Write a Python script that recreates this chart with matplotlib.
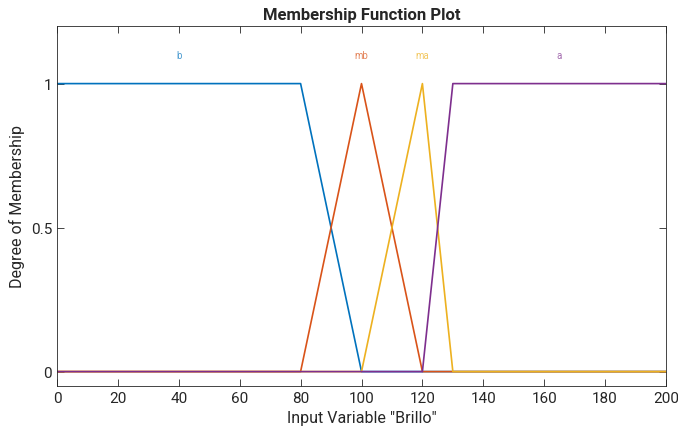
import matplotlib
matplotlib.use("Agg")
import matplotlib.pyplot as plt
import numpy as np

plt.rcParams['font.family'] = ['Roboto', 'DejaVu Sans']

# Membership function definitions (breakpoints) for variable "Brillo"
names = ["b", "mb", "ma", "a"]
x_pts = [
    [0, 80, 100, 200],        # b: trapezoid [0 0 80 100]
    [0, 80, 100, 120, 200],   # mb: triangle [80 100 120]
    [0, 100, 120, 130, 200],  # ma: triangle [100 120 130]
    [0, 120, 130, 200],       # a: trapezoid [120 130 200 200]
]
y_pts = [
    [1, 1, 0, 0],
    [0, 0, 1, 0, 0],
    [0, 0, 1, 0, 0],
    [0, 0, 1, 1],
]
label_x = [40, 100, 120, 165]
label_y = 1.1
colors = ["#0072BD", "#D95319", "#EDB120", "#7E2F8E"]

xticks = list(range(0, 201, 20))
yticks = [0, 0.5, 1]

fig = plt.figure(figsize=(6.78, 4.35), dpi=100)
ax = fig.add_axes([57/678, 1-387/435, (666-57)/678, (387-27)/435])

for xs, ys, c in zip(x_pts, y_pts, colors):
    ax.plot(xs, ys, color=c, lw=1.2)

for n, lx, c in zip(names, label_x, colors):
    ax.text(lx, label_y, n, color=c, alpha=0.7, fontsize=7, ha='center', va='center')

ax.set_xlim(0, 200)
ax.set_ylim(-0.05, 1.2)
ax.set_xticks(xticks)
ax.set_yticks(yticks)
ax.set_yticklabels(["0", "0.5", "1"])
ax.tick_params(direction='in', top=True, right=True, labelsize=11, colors='#262626', length=5, width=0.6)
for s in ax.spines.values():
    s.set_color('#262626')
    s.set_linewidth(0.6)
ax.set_xlabel('Input Variable "Brillo"', fontsize=11.5, color='#262626')
ax.set_ylabel('Degree of Membership', fontsize=11.5, color='#262626')
ax.set_title('Membership Function Plot', fontsize=12, fontweight='bold', color='#262626', pad=5)

fig.savefig("out.png", dpi=100)
